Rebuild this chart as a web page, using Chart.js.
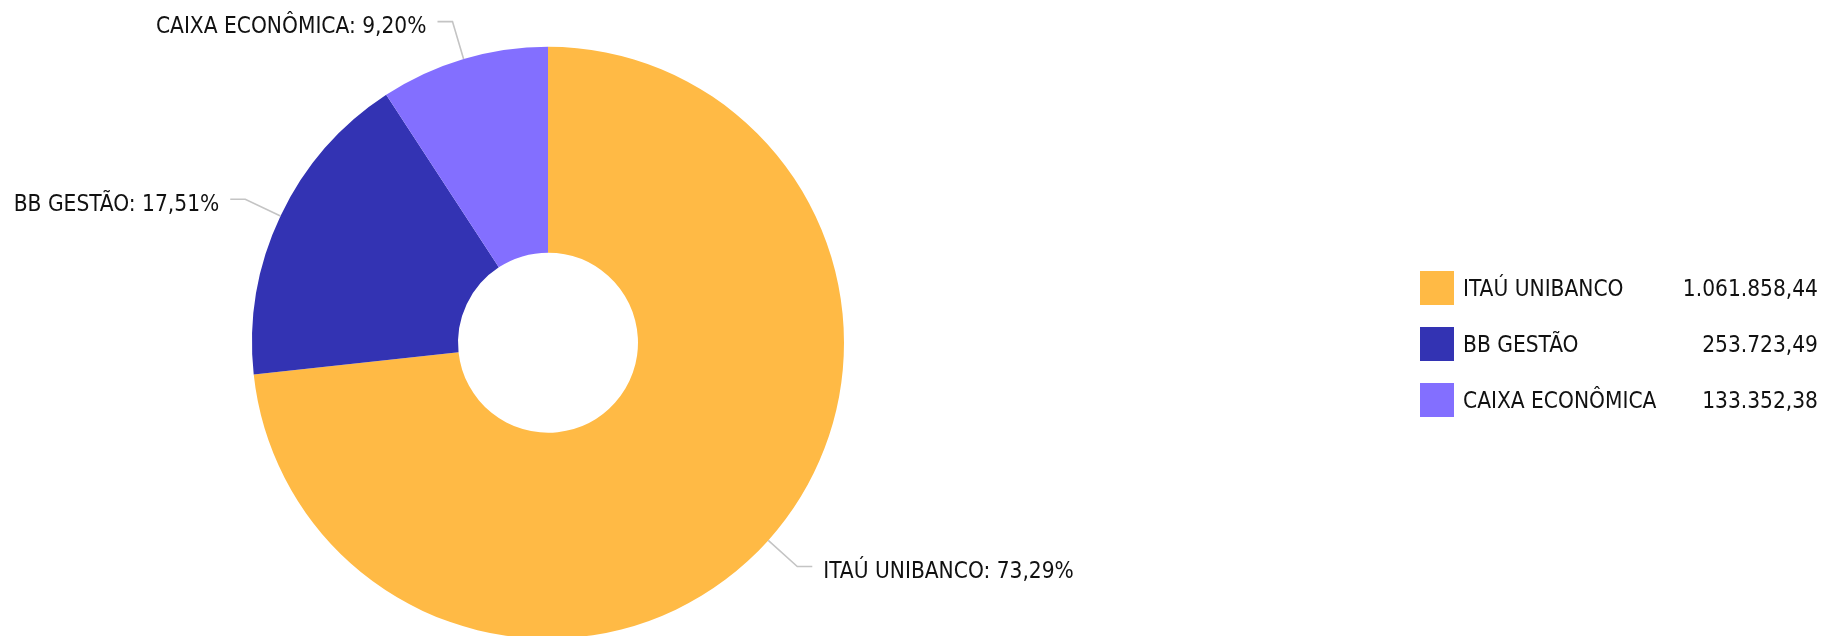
<!DOCTYPE html>
<html>
<head>
<meta charset="utf-8">
<script src="https://cdn.jsdelivr.net/npm/chart.js@4.4.0/dist/chart.umd.min.js"></script>
<style>
    html, body { margin: 0; padding: 0; background: #fff; overflow: hidden; }
    #wrap { position: relative; width: 1830px; height: 700px; }
</style>
</head>
<body>
<div id="wrap"><canvas id="pie-chart"></canvas></div>
<script>
const categories = ['ITAÚ UNIBANCO', 'BB GESTÃO', 'CAIXA ECONÔMICA'];
const values = [1061858.44, 253723.49, 133352.38];
const colors = ['#FFBA45', '#3333B3', '#836FFF'];

const FONT = '22.5px "DejaVu Sans Condensed", "DejaVu Sans", sans-serif';

// formato brasileiro: 1.061.858,44
function formatBR(v) {
    const parts = v.toFixed(2).split('.');
    parts[0] = parts[0].replace(/\B(?=(\d{3})+(?!\d))/g, '.');
    return parts.join(',');
}

const total = values.reduce((a, b) => a + b, 0);

// rótulos externos com linha guia
const outerLabels = {
    id: 'outerLabels',
    afterDatasetsDraw(chart) {
        const ctx = chart.ctx;
        const meta = chart.getDatasetMeta(0);
        ctx.save();
        ctx.font = FONT;
        ctx.textBaseline = 'middle';
        meta.data.forEach((arc, i) => {
            const mid = (arc.startAngle + arc.endAngle) / 2;
            const cos = Math.cos(mid), sin = Math.sin(mid);
            const r0 = arc.outerRadius;
            const r1 = r0 + 39;
            const x0 = arc.x + r0 * cos, y0 = arc.y + r0 * sin;
            const x1 = arc.x + r1 * cos, y1 = arc.y + r1 * sin;
            const dir = cos >= 0 ? 1 : -1;
            const x2 = x1 + dir * 15;

            ctx.strokeStyle = '#C4C4C4';
            ctx.lineWidth = 1.6;
            ctx.beginPath();
            ctx.moveTo(x0, y0);
            ctx.lineTo(x1, y1);
            ctx.lineTo(x2, y1);
            ctx.stroke();

            const pct = (values[i] / total * 100).toFixed(2).replace('.', ',');
            ctx.fillStyle = '#111';
            ctx.textAlign = dir > 0 ? 'left' : 'right';
            ctx.fillText(categories[i] + ': ' + pct + '%', x2 + dir * 11, y1 + 6);
        });
        ctx.restore();
    }
};

// legenda à direita com valores
const sideLegend = {
    id: 'sideLegend',
    afterDraw(chart) {
        const ctx = chart.ctx;
        ctx.save();
        ctx.font = FONT;
        ctx.textBaseline = 'middle';
        categories.forEach((cat, i) => {
            const top = 271 + i * 56;
            ctx.fillStyle = colors[i];
            ctx.fillRect(1420, top, 34, 34);
            ctx.fillStyle = '#111';
            ctx.textAlign = 'left';
            ctx.fillText(cat, 1463, top + 19);
            ctx.textAlign = 'right';
            ctx.fillText(formatBR(values[i]), 1818, top + 19);
        });
        ctx.restore();
    }
};

new Chart(document.getElementById('pie-chart'), {
    type: 'doughnut',
    data: {
        labels: categories,
        datasets: [{
            data: values,
            backgroundColor: colors,
            borderWidth: 0
        }]
    },
    options: {
        responsive: true,
        maintainAspectRatio: false,
        animation: false,
        cutout: '30.4%',
        layout: {
            padding: { left: 252, right: 986, top: 46.7, bottom: 61.3 }
        },
        plugins: {
            legend: { display: false },
            tooltip: { enabled: false }
        }
    },
    plugins: [outerLabels, sideLegend]
});
</script>
</body>
</html>
